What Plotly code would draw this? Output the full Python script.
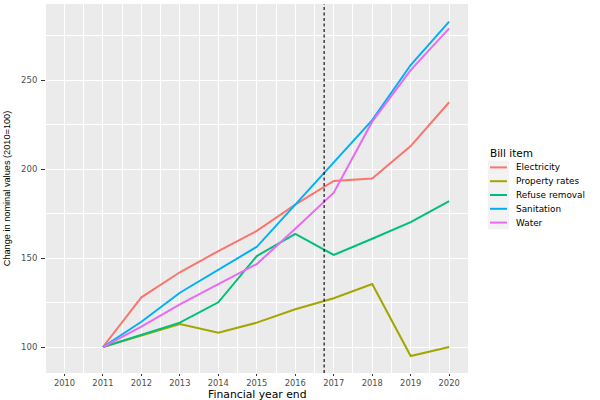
import plotly.graph_objects as go

years = [2011, 2012, 2013, 2014, 2015, 2016, 2017, 2018, 2019, 2020]
electricity = [100, 127.9, 142, 153.9, 165.2, 180, 193.3, 194.6, 212.9, 237.5]
property_rates = [100, 106.6, 112.9, 108, 113.7, 121.2, 127.4, 135.4, 94.9, 100]
refuse_removal = [100, 106.8, 113.7, 125.1, 151.1, 163.5, 151.7, 160.8, 170.2, 182]
sanitation = [100, 114.2, 130.5, 143.5, 156.3, 180, 203.8, 227.5, 258.4, 282.8]
water = [100, 111.4, 124, 135.4, 146.6, 166.5, 186.7, 226.6, 255.6, 279]

series_names = ["Electricity", "Property rates", "Refuse removal", "Sanitation", "Water"]
series_values = [electricity, property_rates, refuse_removal, sanitation, water]
colors = ["#F8766D", "#A3A500", "#00BF7D", "#00B0F6", "#E76BF3"]

x_ticks = list(range(2010, 2021))
y_ticks = [100, 150, 200, 250]
y_minor = [125, 175, 225, 275]
x_minor = [y + 0.5 for y in range(2009, 2021)]
cutoff_year = 2016.75

# layout geometry (pixels)
W, H = 600, 400
L, R, T, B = 46, 132, 4, 27
PW, PH = W - L - R, H - T - B


def px(x):
    return (x - L) / PW


def py(y):
    return (H - y - B) / PH


fig = go.Figure()
for name, vals, col in zip(series_names, series_values, colors):
    fig.add_trace(go.Scatter(x=years, y=vals, mode="lines", name=name,
                             line=dict(color=col, width=2), showlegend=False))

fig.add_shape(type="line", xref="x", yref="paper", x0=cutoff_year, x1=cutoff_year,
              y0=0, y1=1, line=dict(color="black", width=1.1, dash="3px,2.5px"))

# x-axis title
fig.add_annotation(xref="paper", yref="paper", x=0.5, y=py(402), text="Financial year end",
                   showarrow=False, xanchor="center", yanchor="bottom", borderpad=0,
                   font=dict(family="DejaVu Sans", size=10.8, color="black"))

# manual ggplot-style legend
fig.add_annotation(xref="paper", yref="paper", x=px(488), y=py(153), text="Bill item",
                   showarrow=False, xanchor="left", yanchor="middle",
                   font=dict(family="DejaVu Sans", size=10.5, color="black"))
key_top = 160.5
key_h = 13.8
for i, (name, col) in enumerate(zip(series_names, colors)):
    y0 = key_top + i * key_h
    fig.add_shape(type="rect", xref="paper", yref="paper", x0=px(488), x1=px(509),
                  y0=py(y0 + key_h), y1=py(y0), fillcolor="#F2F2F2", line=dict(width=0),
                  layer="below")
    fig.add_shape(type="line", xref="paper", yref="paper", x0=px(490), x1=px(507),
                  y0=py(y0 + key_h / 2), y1=py(y0 + key_h / 2), line=dict(color=col, width=2))
    fig.add_annotation(xref="paper", yref="paper", x=px(514), y=py(y0 + key_h / 2), text=name,
                       showarrow=False, xanchor="left", yanchor="middle",
                       font=dict(family="DejaVu Sans", size=8.9, color="black"))

fig.update_layout(
    width=W, height=H,
    margin=dict(l=L, r=R, t=T, b=B, pad=0, autoexpand=False),
    paper_bgcolor="white",
    plot_bgcolor="#EBEBEB",
    showlegend=False,
    font=dict(family="DejaVu Sans", color="black"),
)
fig.update_xaxes(
    automargin=False,
    range=[2009.52, 2020.49], tickvals=x_ticks, ticktext=[str(v) for v in x_ticks],
    showgrid=True, gridcolor="white", gridwidth=1.1, zeroline=False, showline=False,
    ticks="outside", ticklen=2, tickcolor="#333333", tickwidth=1,
    tickfont=dict(family="DejaVu Sans", size=8.3, color="#4D4D4D"),
    minor=dict(tickvals=x_minor, showgrid=True, gridcolor="white", gridwidth=0.5, ticks=""),
)
fig.update_yaxes(
    automargin=False,
    range=[85.4, 292.7], tickvals=y_ticks,
    showgrid=True, gridcolor="white", gridwidth=1.1, zeroline=False, showline=False,
    ticks="outside", ticklen=4, tickcolor="#333333", tickwidth=1,
    ticklabelstandoff=2,
    tickfont=dict(family="DejaVu Sans", size=8.5, color="#4D4D4D"),
    minor=dict(tickvals=y_minor, showgrid=True, gridcolor="white", gridwidth=0.5, ticks=""),
    title=dict(text="Change in nominal values (2010=100)",
               font=dict(family="Liberation Sans", size=9.2, color="black"),
               standoff=8),
)

fig.write_html("out.html")
